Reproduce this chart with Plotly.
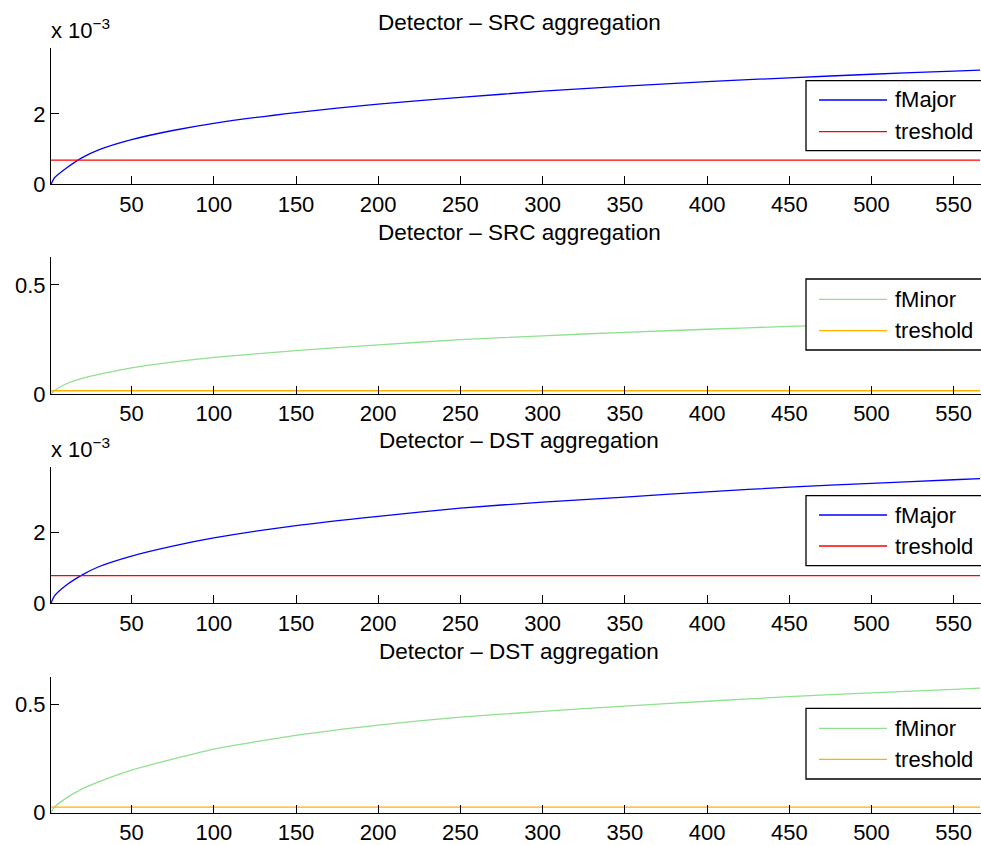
import plotly.graph_objects as go

W, H = 981, 845
FONT = "Liberation Sans, Arial, Helvetica, sans-serif"

# ---------------- data ----------------
x_pts = [1, 3, 10, 20, 30, 50, 75, 100, 150, 200, 250, 300, 350, 400, 450, 500, 550, 566]

src_fmajor = [0, 0.18e-3, 0.45e-3, 0.76e-3, 0.98e-3, 1.27e-3, 1.53e-3, 1.735e-3, 2.04e-3, 2.28e-3,
              2.47e-3, 2.65e-3, 2.79e-3, 2.92e-3, 3.03e-3, 3.13e-3, 3.22e-3, 3.25e-3]
src_fminor = [0, 0.015, 0.046, 0.072, 0.09, 0.12, 0.146, 0.168, 0.199, 0.225,
              0.249, 0.267, 0.283, 0.297, 0.31, 0.322, 0.333, 0.336]
dst_fmajor = [0, 0.2e-3, 0.5e-3, 0.8e-3, 1.03e-3, 1.33e-3, 1.61e-3, 1.84e-3, 2.19e-3, 2.45e-3,
              2.68e-3, 2.85e-3, 2.99e-3, 3.14e-3, 3.27e-3, 3.38e-3, 3.48e-3, 3.51e-3]
dst_fminor = [0, 0.025, 0.066, 0.11, 0.142, 0.196, 0.247, 0.293, 0.356, 0.403,
              0.44, 0.466, 0.491, 0.513, 0.534, 0.552, 0.568, 0.573]

thr_x = [1, 566]
src_major_thr = [0.69e-3, 0.69e-3]
src_minor_thr = [0.015, 0.015]
dst_major_thr = [0.78e-3, 0.78e-3]
dst_minor_thr = [0.026, 0.026]

x_ticks = [50, 100, 150, 200, 250, 300, 350, 400, 450, 500, 550]
major_ticks = [0, 0.002]
major_ticktext = ["0", "2"]
minor_ticks = [0, 0.5]
minor_ticktext = ["0", "0.5"]

titles = ["Detector \u2013 SRC aggregation", "Detector \u2013 SRC aggregation",
          "Detector \u2013 DST aggregation", "Detector \u2013 DST aggregation"]


def px(p):
    return p / W


def py(p):
    return 1 - p / H


panels = [
    dict(y=src_fmajor, thr=src_major_thr, name="fMajor", col="#0000ff", tcol="#ff0000",
         top=48, bottom=184.3, ymax=3.877e-3, tv=major_ticks, tt=major_ticktext, exp=True,
         title_y=22, leg=(80.7, 150.7, 100, 131.7)),
    dict(y=src_fminor, thr=src_minor_thr, name="fMinor", col="#90e090", tcol="#ffb000",
         top=257.3, bottom=394, ymax=0.627, tv=minor_ticks, tt=minor_ticktext, exp=False,
         title_y=233, leg=(279, 350, 299.3, 330.7)),
    dict(y=dst_fmajor, thr=dst_major_thr, name="fMajor", col="#0000ff", tcol="#ff0000",
         top=467.3, bottom=603.3, ymax=3.83e-3, tv=major_ticks, tt=major_ticktext, exp=True,
         title_y=441, leg=(495.7, 565.7, 515, 546)),
    dict(y=dst_fminor, thr=dst_minor_thr, name="fMinor", col="#90e090", tcol="#ffb000",
         top=676.7, bottom=812.7, ymax=0.626, tv=minor_ticks, tt=minor_ticktext, exp=False,
         title_y=651, leg=(708.3, 779, 728.3, 759.3)),
]

fig = go.Figure()
layout = dict(
    width=W, height=H,
    margin=dict(l=0, r=0, t=0, b=0, pad=0),
    paper_bgcolor="white", plot_bgcolor="white",
    font=dict(family=FONT, size=22, color="black"),
    showlegend=False,
)
shapes = []
annotations = []

for i, p in enumerate(panels):
    s = "" if i == 0 else str(i + 1)
    xa, ya = "x" + s, "y" + s
    fig.add_trace(go.Scatter(x=x_pts, y=p["y"], mode="lines", name=p["name"],
                             line=dict(color=p["col"], width=1.3, shape="spline", smoothing=0.6),
                             xaxis=xa, yaxis=ya, showlegend=False))
    fig.add_trace(go.Scatter(x=thr_x, y=p["thr"], mode="lines", name="treshold",
                             line=dict(color=p["tcol"], width=1.3),
                             xaxis=xa, yaxis=ya, showlegend=False))
    layout["xaxis" + s] = dict(
        domain=[px(51), 1], range=[1, 566.6], anchor=ya, automargin=False,
        tickvals=x_ticks, ticks="inside", ticklen=8, tickwidth=1, tickcolor="black",
        showline=True, linecolor="black", linewidth=1, mirror=False,
        showgrid=False, zeroline=False, tickfont=dict(size=22, color="black"),
    )
    layout["yaxis" + s] = dict(
        domain=[py(p["bottom"]), py(p["top"])], range=[0, p["ymax"]], anchor=xa,
        automargin=False,
        tickvals=p["tv"], ticktext=p["tt"], ticks="inside", ticklen=8, tickwidth=1,
        tickcolor="black", showline=True, linecolor="black", linewidth=1, mirror=False,
        showgrid=False, zeroline=False, tickfont=dict(size=22, color="black"),
    )
    annotations.append(dict(text=titles[i], x=px(519), y=py(p["title_y"]), xref="paper",
                            yref="paper", xanchor="center", yanchor="middle", showarrow=False,
                            font=dict(size=22.5, color="black")))
    if p["exp"]:
        annotations.append(dict(text="x 10<sup>\u22123</sup>", x=px(49),
                                y=py(p["top"] - 3), xref="paper", yref="paper",
                                xanchor="left", yanchor="bottom", showarrow=False,
                                font=dict(size=22, color="black")))
    # legend box
    t, b, r1, r2 = p["leg"]
    shapes.append(dict(type="rect", xref="paper", yref="paper", x0=px(806), x1=px(995),
                       y0=py(b), y1=py(t), line=dict(color="black", width=1.3),
                       fillcolor="white", layer="above"))
    for ry, c, label in [(r1, p["col"], p["name"]), (r2, p["tcol"], "treshold")]:
        shapes.append(dict(type="line", xref="paper", yref="paper", x0=px(819), x1=px(887),
                           y0=py(ry), y1=py(ry), line=dict(color=c, width=1.3), layer="above"))
        annotations.append(dict(text=label, x=px(893), y=py(ry), xref="paper", yref="paper",
                                xanchor="left", yanchor="middle", showarrow=False,
                                font=dict(size=22, color="black")))

layout["shapes"] = shapes
layout["annotations"] = annotations
fig.update_layout(**layout)
fig.write_html("out.html", config={"displayModeBar": False},
               post_script="document.body.style.margin='0';document.body.style.overflow='hidden';")
